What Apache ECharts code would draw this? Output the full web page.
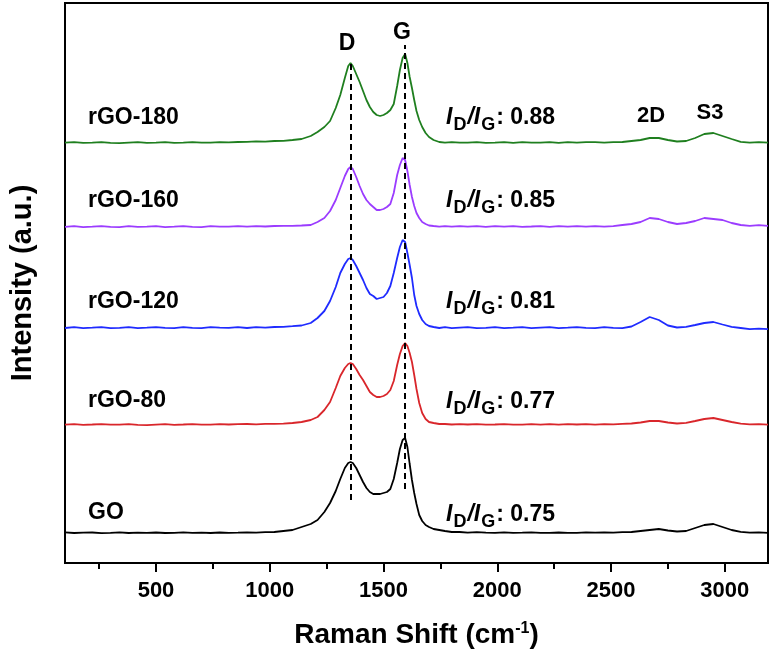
<!DOCTYPE html>
<html><head><meta charset="utf-8">
<script src="https://cdn.jsdelivr.net/npm/echarts@6/dist/echarts.min.js"></script>
<style>html,body{margin:0;padding:0;background:#fff}#c{width:774px;height:658px}</style>
</head><body><div id="c"></div>
<script>
const ramanShift = [100,140,180,220,260,300,340,380,420,460,500,540,580,620,660,700,740,780,820,860,900,940,980,1020,1060,1100,1140,1180,
1210,1240,1265,1290,1310,1330,1345,1355,1365,1380,1395,1410,1425,1440,1455,1470,1485,1500,1515,1530,1545,1560,1572,1584,1595,1605,1615,1625,1635,1645,1657,1670,1685,1700,1720,1745,1770,1800,1835,
1870,1910,1950,1990,2030,2070,2110,2150,2190,2230,2270,2310,2350,2390,2430,2470,2510,2550,2590,2630,2670,2710,2750,2790,2830,2870,2910,2950,2990,3030,3070,3110,3150,3190];

const GO = [30.6,30,30.3,30.5,29.9,30.2,30.6,30,30.3,30.1,30.5,30,30.2,30.6,30.1,30.3,30,30.5,30.2,30.3,30.6,30.4,30.8,31,32,33,36,39,
43,51,60,72,84,95,100,101,100,95,88,81,75,71,69,69,69,70,71,74,84,100,114,123,125,116,99,83,70,59,48,42,38,36,34,33,32,31,31,
30.4,30.8,30.3,30.2,30.6,30.1,30.3,30.6,30.2,30.1,30.5,30.2,30.1,30.6,30.3,30.7,30.4,30.8,31,32,33,34,32.5,31.5,32,35,38,39,36,33,31.2,30.4,30.6,30.2];

const rGO80 = [138.4,138.8,138.2,138.5,138.9,138.3,138.4,138.8,138.2,137.9,138.4,138.8,138.2,138.5,138.9,138.3,138.4,138.8,138.5,138.9,139,138.7,139.1,139.2,139.4,140,141,143,
146,153,161,175,187,195,199,200,199,194,188,183,177,171,168,166,166,167,169,173,182,198,209,217,220,217,210,201,188,174,160,150,144,141,140,139,139,138.5,138.9,
138.5,138.9,138.3,138.5,138.9,138.4,138.3,138.8,138.4,138.9,138.3,138.8,138.5,138.9,138.4,138.9,138.6,139.2,139.5,140.5,142,142,140.5,139.5,140.2,142,144,145,143,141,139.4,138.6,138.9,138.4];

const rGO120 = [235,235.8,234.8,235.3,235.9,234.9,235.2,235.9,234.8,235.3,235.9,235.1,234.8,235.8,235.2,234.9,235.8,235.3,235.2,235.9,235,235.9,235.4,236,236.2,236.8,237.5,240,
245,252,262,276,290,299,304,305,303,297,290,283,275,269,267,264,265,266,270,277,290,305,316,323,321,310,298,285,268,257,249,243,239,237,236,235,235.8,234.8,235.3,
235.8,234.8,235.2,235.9,234.8,235.3,235.9,234.9,235.4,235.9,234.8,235.3,235.9,235.1,234.8,235.9,235.2,234.9,236.5,241,246,243,237.5,235.5,236.2,238,240,241,238.5,236.2,235,233.8,234.4,233.8];

const rGO160 = [336.2,336.9,335.8,336.3,336.9,336.1,335.9,336.8,336.2,336.4,336.9,335.9,336.3,336.9,336.2,335.9,336.8,336.3,336.4,336.9,336.3,336.9,336.5,337,337.1,337.2,337.5,338,
341,345,352,363,375,387,394,396,394,386,377,369,363,359,356,353,353,354,356,359,370,388,398,405,403,392,378,366,357,350,345,341,339,337.5,337,336.4,336.9,336.3,336.8,
336.3,336.9,336.2,336.8,336.3,336.9,336.2,336.5,336.9,336.2,336.8,336.3,336.9,336.3,336.8,336.3,336.9,338,339,341,345,344,341,339,340,342,345,344,343,340,338,337.2,337.8,337.2];

const rGO180 = [420.3,420.8,420.1,420.4,420.9,420.2,419.8,420.4,420.8,420.2,420.4,420.9,420.2,420.4,420.8,420.3,420.4,420.9,420.7,421,421.2,421.6,421.4,422,422.2,423,424,427,
431,436,442,455,468,485,497,500,497,489,481,472,463,456,451,448,447,448,450,453,459,477,493,505,509,500,486,475,463,452,443,436,430,426,423,421,420.4,420.9,420.3,
420.3,420.8,420.2,420.4,420.9,420.2,420.8,420.3,420.4,420.9,420.2,420.8,420.3,420.9,420.8,420.4,420.9,421,422,423,425,425,423,421.5,422,425,429,430,427,424,421.2,420.4,420.9,420.3];

const seriesNames = ['GO','rGO-80','rGO-120','rGO-160','rGO-180'];
const seriesValues = [GO, rGO80, rGO120, rGO160, rGO180];
const seriesColors = ['#000000','#d9262b','#1f2bff','#9b3cff','#1f7f1f'];
const ratios = ['0.75','0.77','0.81','0.85','0.88'];
const majorTicks = [500,1000,1500,2000,2500,3000];
const minorTicks = [250,750,1250,1750,2250,2750];
const peakD = {x:1355, y0:63, y1:501};
const peakG = {x:1595, y0:74, y1:518};

const FONT = 'Arial, "Liberation Sans", sans-serif';
const chart = echarts.init(document.getElementById('c'), null, {renderer:'canvas'});

const series = seriesNames.map((n,i)=>({
  name:n, type:'line', showSymbol:false, smooth:false,
  data: ramanShift.map((x,k)=>[x, seriesValues[i][k]]),
  lineStyle:{color:seriesColors[i], width:1.8},
  itemStyle:{color:seriesColors[i]},
  z:2
}));
series.push({
  type:'line', data:[], z:5,
  markLine:{silent:true, symbol:'none', label:{show:false},
    lineStyle:{color:'#000', type:[6,4], width:2},
    data:[
      [{coord:[peakD.x, peakD.y0]},{coord:[peakD.x, peakD.y1]}],
      [{coord:[peakG.x, peakG.y0]},{coord:[peakG.x, peakG.y1]}]
    ]}
});

const labelY = [514,402,303,202,119];
const ratioY = [516,403,303,202,119];
const graphics = [];
seriesNames.forEach((n,i)=>{
  graphics.push({type:'text', left:88, top:labelY[i]-13, style:{text:n, font:'bold 23px '+FONT, fill:'#000'}});
  graphics.push({type:'text', left:446, top:ratioY[i]-13, style:{
    text:'{i|I}{s|D}{i|/I}{s|G}{n|: '+ratios[i]+'}',
    rich:{
      i:{font:'italic bold 23px '+FONT, fill:'#000', verticalAlign:'bottom'},
      s:{font:'bold 18px '+FONT, fill:'#000', verticalAlign:'bottom', padding:[0,1,-5,1]},
      n:{font:'bold 23px '+FONT, fill:'#000', verticalAlign:'bottom'}
    }}});
});
graphics.push({type:'text', x:347, y:44, style:{text:'D', font:'bold 23px '+FONT, fill:'#000', align:'center', verticalAlign:'middle'}});
graphics.push({type:'text', x:402, y:33, style:{text:'G', font:'bold 23px '+FONT, fill:'#000', align:'center', verticalAlign:'middle'}});
graphics.push({type:'text', x:651, y:116, style:{text:'2D', font:'bold 22px '+FONT, fill:'#000', align:'center', verticalAlign:'middle'}});
graphics.push({type:'text', x:710, y:113, style:{text:'S3', font:'bold 22px '+FONT, fill:'#000', align:'center', verticalAlign:'middle'}});

chart.setOption({
  animation:false,
  backgroundColor:'#fff',
  grid:{left:60, right:6, top:3, bottom:95, show:true, borderColor:'#000', borderWidth:2, backgroundColor:'transparent'},
  xAxis:[{
    type:'value', min:100, max:3190,
    name:'Raman Shift (cm{sup|-1})', nameLocation:'middle', nameGap:58,
    nameTextStyle:{fontFamily:FONT, fontWeight:'bold', fontSize:28, color:'#000',
      rich:{sup:{fontFamily:FONT, fontWeight:'bold', fontSize:16, color:'#000', verticalAlign:'top', padding:[0,0,12,0]}}},
    axisLine:{show:true, lineStyle:{color:'#000', width:2}},
    axisTick:{show:true, length:9, lineStyle:{color:'#000', width:2}, customValues:majorTicks},
    axisLabel:{show:true, customValues:majorTicks, formatter:(v)=>String(v), fontFamily:FONT, fontWeight:'bold', fontSize:22, color:'#000', margin:17},
    splitLine:{show:false}
  },{
    type:'value', min:100, max:3190, position:'bottom',
    axisLine:{show:false},
    axisTick:{show:true, length:6, lineStyle:{color:'#000', width:2}, customValues:minorTicks},
    axisLabel:{show:false}, splitLine:{show:false}
  }],
  yAxis:{
    type:'value', min:0, max:560,
    name:'Intensity (a.u.)', nameLocation:'middle', nameGap:28, nameRotate:90,
    nameTextStyle:{fontFamily:FONT, fontWeight:'bold', fontSize:29, color:'#000'},
    axisLine:{show:true, lineStyle:{color:'#000', width:2}},
    axisTick:{show:false}, axisLabel:{show:false}, splitLine:{show:false}
  },
  series: series,
  graphic: graphics
});
</script></body></html>
